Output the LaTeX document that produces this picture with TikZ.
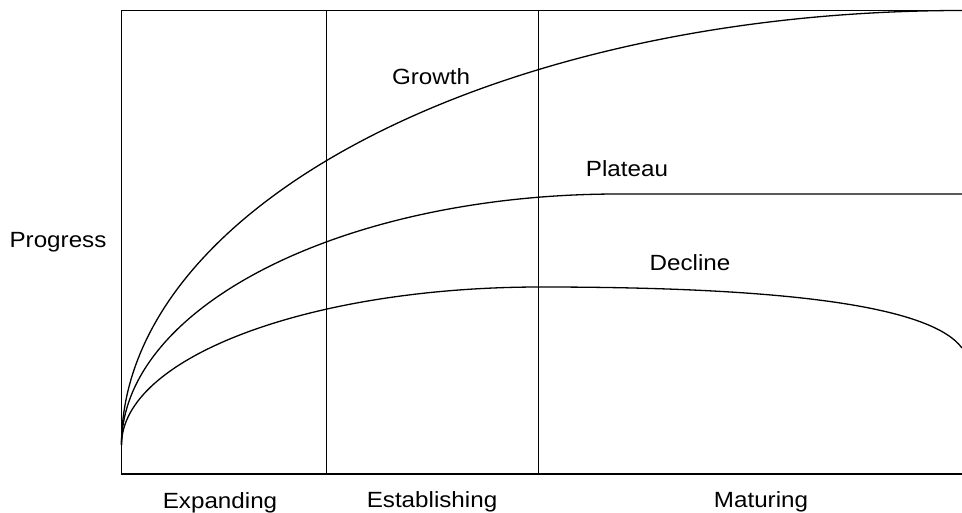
\documentclass[tikz,border=0pt]{standalone}
\usepackage{fontspec}
\setmainfont[FakeStretch=1.1]{Liberation Sans}
\usetikzlibrary{positioning}

\begin{document}
\begin{tikzpicture}[x=1pt, y=1pt, font=\fontsize{22}{26}\selectfont]
    \tikzset{
        phase/.style = {anchor=base},
        curve/.style = {line width=1.3pt},
        frame/.style = {line width=1.4pt},
    }
    \useasboundingbox (0,0) rectangle (962,512);

    \coordinate (start) at (121.5,67);
    \draw[frame] (121.5,38) rectangle (963.5,501.5);
    \draw[frame] (326.5,38) -- (326.5,501.5);
    \draw[frame] (538.5,38) -- (538.5,501.5);

    \draw[curve] (start) arc[start angle=180, end angle=90, x radius=840.5, y radius=434.5];
    \draw[curve] (start) arc[start angle=180, end angle=90, x radius=497, y radius=251] -- (962,318);
    \draw[curve] (start) arc[start angle=180, end angle=90, x radius=419, y radius=158]
        .. controls (780,225) and (930,207) .. (962,164);

    \node [phase] (growth) at (431,427) {Growth};
    \node [phase] (plateau) at (627,335) {Plateau};
    \node [phase] (decline) at (690,241) {Decline};

    \node [phase] (progress) at (58,264) {Progress};
    \node [phase] (expanding) at (220,4) {Expanding};
    \node [phase] (establishing) at (432,5) {Establishing};
    \node [phase] (maturing) at (761,5) {Maturing};
\end{tikzpicture}
\end{document}
